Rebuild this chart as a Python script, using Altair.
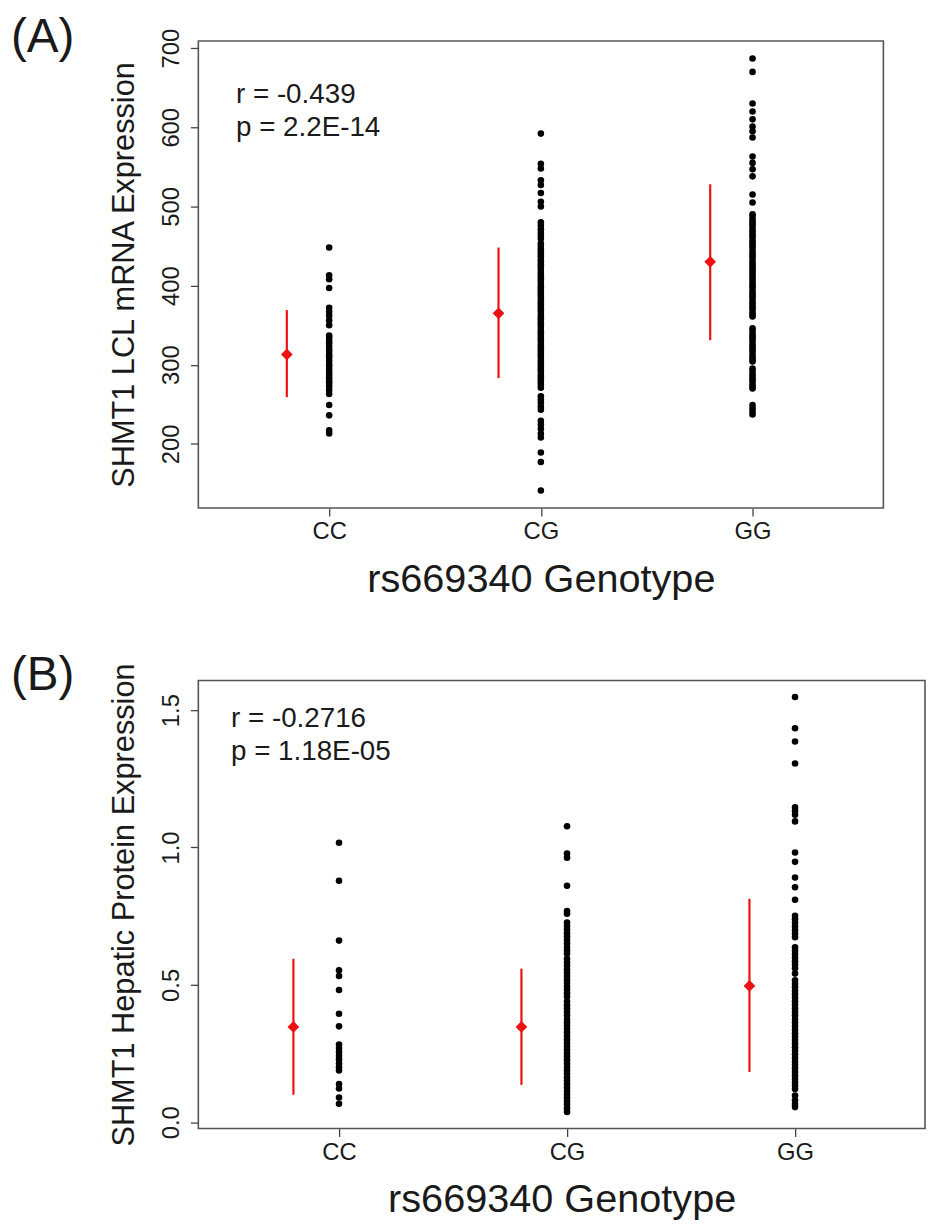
import json
import altair as alt
import pandas as pd

genotypes = ["CC", "CG", "GG"]
x_title = "rs669340 Genotype"

# Panel A: SHMT1 LCL mRNA expression
mrna_title = "SHMT1 LCL mRNA Expression"
mrna_cc = [448, 413, 408, 397, 372, 367, 362, 356, 350, 337, 334, 330, 327, 323, 319,
           316, 312, 309, 305, 301, 298, 294, 290, 287, 283, 279, 276, 272, 268, 263,
           249, 236, 217, 213]
mrna_cg = [592, 554, 548, 533, 527, 517, 506, 500, 480, 476, 471, 467, 463, 459, 453,
           450, 446, 443, 440, 437, 433, 430, 427, 424, 421, 417, 414, 411, 408, 405,
           401, 398, 395, 392, 389, 386, 382, 379, 376, 373, 370, 367, 363, 360, 357,
           354, 351, 348, 344, 341, 338, 335, 332, 329, 325, 322, 319, 316, 313, 310,
           306, 303, 300, 297, 294, 291, 287, 284, 281, 278, 275, 271, 260, 256, 252,
           247, 243, 229, 224, 219, 213, 208, 189, 177, 141]
mrna_gg = [687, 670, 630, 620, 610, 601, 595, 587, 563, 555, 547, 538, 515, 505, 490,
           487, 483, 480, 477, 474, 470, 467, 464, 461, 457, 454, 451, 448, 444, 441,
           438, 435, 431, 428, 425, 422, 418, 415, 412, 409, 405, 402, 399, 396, 392,
           389, 386, 383, 379, 376, 373, 370, 366, 363, 361, 346, 343, 339, 336, 333,
           330, 326, 323, 320, 317, 313, 310, 307, 304, 295, 292, 288, 285, 282, 279,
           275, 272, 270, 249, 245, 241, 237]
mrna_mean = [313, 365, 430]
mrna_lo = [259, 283, 331]
mrna_hi = [369, 448, 528]
mrna_stats = ["r = -0.439", "p = 2.2E-14"]
mrna_ticks = [200, 300, 400, 500, 600, 700]

# Panel B: SHMT1 hepatic protein expression
prot_title = "SHMT1 Hepatic Protein Expression"
prot_cc = [1.017, 0.879, 0.661, 0.553, 0.532, 0.481, 0.395, 0.349, 0.283, 0.270,
           0.256, 0.242, 0.228, 0.214, 0.200, 0.188, 0.139, 0.123, 0.090, 0.067]
prot_cg = [1.077, 0.978, 0.963, 0.861, 0.769, 0.759, 0.727, 0.714, 0.701, 0.688,
           0.676, 0.663, 0.651, 0.638, 0.625, 0.613, 0.595, 0.582, 0.570, 0.557,
           0.544, 0.532, 0.519, 0.507, 0.494, 0.482, 0.469, 0.457, 0.439, 0.426,
           0.414, 0.401, 0.389, 0.376, 0.364, 0.351, 0.339, 0.326, 0.314, 0.301,
           0.289, 0.276, 0.264, 0.251, 0.239, 0.226, 0.214, 0.201, 0.189, 0.176,
           0.164, 0.151, 0.139, 0.126, 0.114, 0.101, 0.089, 0.076, 0.064, 0.051, 0.037]
prot_gg = [1.548, 1.434, 1.386, 1.306, 1.146, 1.134, 1.119, 1.095, 0.982, 0.948,
           0.891, 0.855, 0.810, 0.751, 0.739, 0.726, 0.712, 0.699, 0.686, 0.673,
           0.637, 0.625, 0.612, 0.599, 0.586, 0.573, 0.560, 0.541, 0.517, 0.504,
           0.491, 0.478, 0.466, 0.453, 0.440, 0.427, 0.414, 0.401, 0.389, 0.376,
           0.363, 0.350, 0.337, 0.324, 0.311, 0.299, 0.286, 0.273, 0.260, 0.247,
           0.234, 0.221, 0.209, 0.196, 0.183, 0.170, 0.157, 0.144, 0.133, 0.121,
           0.097, 0.080, 0.066, 0.055]
prot_mean = [0.347, 0.347, 0.496]
prot_lo = [0.100, 0.136, 0.183]
prot_hi = [0.595, 0.559, 0.813]
prot_stats = ["r = -0.2716", "p = 1.18E-05"]
prot_ticks = [0.0, 0.5, 1.0, 1.5]

FONT = "Liberation Sans"
TXT = "#1a1a1a"
label_expr = json.dumps(genotypes) + "[datum.value - 1]"


def panel(groups, means, los, his, ylab, ydomain, yticks, yfmt, xdomain, w, h,
          letter, letter_y, stats, stat_x, stat_y):
    rows = []
    for i, vals in enumerate(groups):
        for v in vals:
            rows.append({"g": genotypes[i], "pos": i + 1, "value": v})
    pts = pd.DataFrame(rows)
    summ = pd.DataFrame({"g": genotypes, "pos": [1, 2, 3], "mean": means,
                         "lo": los, "hi": his})
    xs = alt.Scale(domain=xdomain, nice=False, zero=False)
    ys = alt.Scale(domain=ydomain, nice=False, zero=False)
    x_axis = alt.Axis(values=[1, 2, 3], labelExpr=label_expr, title=x_title,
                      titleFontSize=40, titlePadding=16, labelPadding=4,
                      labelFontSize=24)
    y_axis = alt.Axis(values=yticks, format=yfmt, title=ylab, titleFontSize=31,
                      titlePadding=19, labelAngle=-90, labelAlign="center",
                      labelBaseline="alphabetic", labelPadding=12, labelFontSize=24)

    dots = alt.Chart(pts).mark_circle(size=44, color="black", opacity=1).encode(
        x=alt.X("pos:Q", scale=xs, axis=x_axis),
        y=alt.Y("value:Q", scale=ys, axis=y_axis),
    )
    bars = alt.Chart(summ).transform_calculate(xp="datum.pos - 0.2").mark_rule(
        color="#ee1111", strokeWidth=2.2).encode(
        x=alt.X("xp:Q", scale=xs, axis=x_axis),
        y=alt.Y("lo:Q", scale=ys, axis=y_axis),
        y2="hi:Q",
    )
    diam = alt.Chart(summ).transform_calculate(xp="datum.pos - 0.2").mark_point(
        shape="diamond", filled=True, size=140, color="#ee1111", opacity=1).encode(
        x=alt.X("xp:Q", scale=xs, axis=x_axis),
        y=alt.Y("mean:Q", scale=ys, axis=y_axis),
    )
    t1 = alt.Chart(pd.DataFrame({"t": [stats[0]]})).mark_text(
        align="left", baseline="alphabetic", fontSize=28, font=FONT, color=TXT).encode(
        x=alt.value(stat_x), y=alt.value(stat_y), text="t:N")
    t2 = alt.Chart(pd.DataFrame({"t": [stats[1]]})).mark_text(
        align="left", baseline="alphabetic", fontSize=28, font=FONT, color=TXT).encode(
        x=alt.value(stat_x), y=alt.value(stat_y + 33), text="t:N")
    lab = alt.Chart(pd.DataFrame({"t": [letter]})).mark_text(
        align="left", baseline="alphabetic", fontSize=48, font=FONT, color=TXT).encode(
        x=alt.value(-189), y=alt.value(letter_y), text="t:N")
    return alt.layer(dots, bars, diam, t1, t2, lab).properties(width=w, height=h)


pA = panel([mrna_cc, mrna_cg, mrna_gg], mrna_mean, mrna_lo, mrna_hi, mrna_title,
           [119, 709], mrna_ticks, "d", [0.382, 3.618], 691, 471,
           "(A)", 11, mrna_stats, 38, 63)
pB = panel([prot_cc, prot_cg, prot_gg], prot_mean, prot_lo, prot_hi, prot_title,
           [-0.023, 1.608], prot_ticks, ".1f", [0.383, 3.57], 733, 452,
           "(B)", 10, prot_stats, 33, 47)

chart = alt.vconcat(pA, pB, spacing=52).configure(
    font=FONT,
    padding={"left": 2, "top": 0, "right": 0, "bottom": 0},
).configure_view(
    stroke="#555555", strokeWidth=1.6,
).configure_axis(
    grid=False, domain=False, tickColor="#444444", tickSize=8, tickWidth=1.3,
    labelColor=TXT, titleColor=TXT, titleFontWeight="normal", labelFont=FONT,
    titleFont=FONT,
)

chart.save("out.html", embed_options={"renderer": "svg", "actions": False})
